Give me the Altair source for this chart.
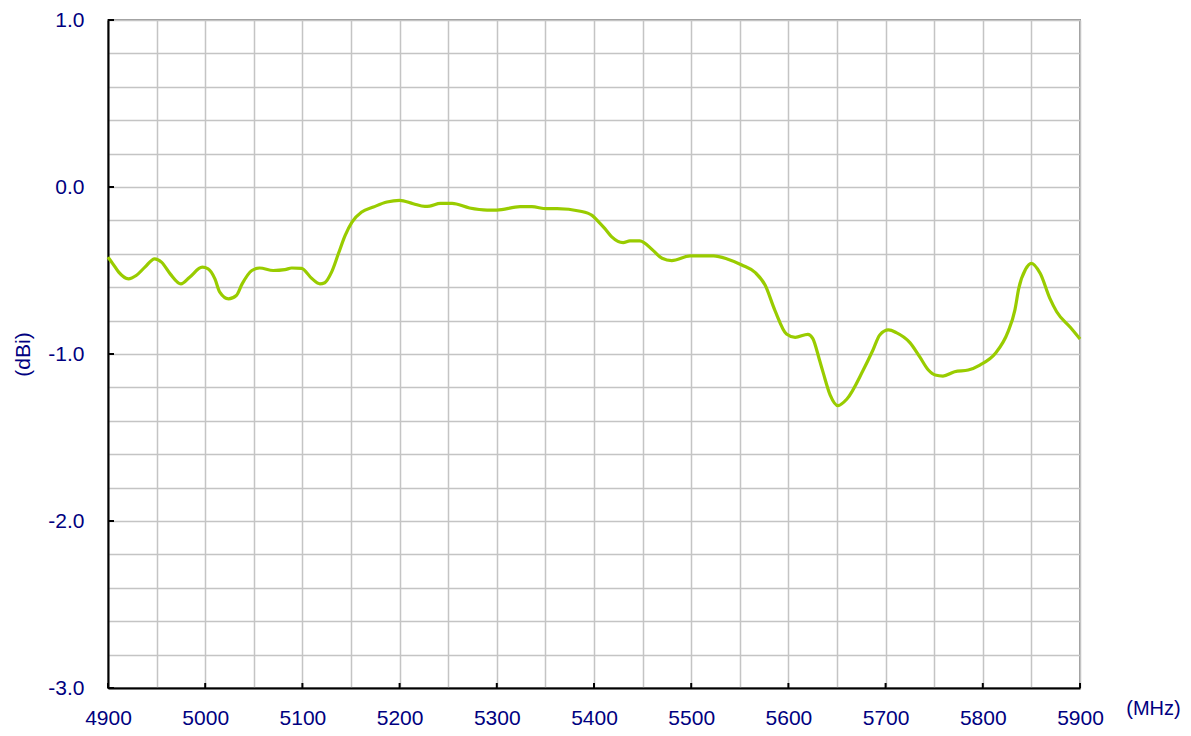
import altair as alt
import pandas as pd

freq = [4900, 4905, 4911, 4921, 4929, 4938, 4948, 4955, 4964, 4975, 4984, 4997,
        5003, 5010, 5015, 5024, 5032, 5038, 5048, 5056, 5070, 5082, 5089, 5099,
        5110, 5118, 5123, 5130, 5137, 5144, 5151, 5161, 5173, 5187, 5200, 5214,
        5226, 5231, 5242, 5254, 5272, 5290, 5300, 5324, 5336, 5351, 5362, 5386,
        5398, 5405, 5411, 5418, 5430, 5437, 5447, 5461, 5470, 5480, 5499, 5523,
        5537, 5552, 5566, 5576, 5586, 5598, 5607, 5620, 5625, 5632, 5636, 5643,
        5651, 5660, 5677, 5687, 5694, 5703, 5711, 5725, 5735, 5744, 5751, 5759,
        5771, 5785, 5797, 5813, 5826, 5833, 5837, 5844, 5850, 5859, 5869, 5876,
        5890, 5900]
gain = [-0.42, -0.46, -0.51, -0.55, -0.53, -0.48, -0.43, -0.45, -0.52, -0.58, -0.54, -0.48,
        -0.49, -0.55, -0.63, -0.67, -0.65, -0.58, -0.50, -0.485, -0.50, -0.495, -0.485, -0.487,
        -0.55, -0.58, -0.573, -0.51, -0.40, -0.29, -0.21, -0.15, -0.12, -0.09, -0.08, -0.10,
        -0.116, -0.114, -0.098, -0.098, -0.126, -0.138, -0.138, -0.118, -0.118, -0.13, -0.13, -0.145,
        -0.17, -0.21, -0.248, -0.297, -0.333, -0.323, -0.323, -0.381, -0.427, -0.441, -0.413, -0.413,
        -0.431, -0.467, -0.513, -0.587, -0.737, -0.88, -0.90, -0.882, -0.906, -1.036, -1.116, -1.246,
        -1.309, -1.271, -1.096, -0.976, -0.886, -0.856, -0.872, -0.932, -1.016, -1.096, -1.126, -1.132,
        -1.106, -1.096, -1.066, -0.996, -0.866, -0.737, -0.607, -0.493, -0.457, -0.517, -0.667, -0.747,
        -0.84, -0.91]

x_grid = list(range(4900, 5901, 50))
y_grid = [round(-3 + 0.2 * i, 1) for i in range(21)]
x_major = list(range(4900, 5901, 100))
y_major = [-3.0, -2.0, -1.0, 0.0, 1.0]

NAVY = "#000080"
FONT = "Liberation Sans"

df = pd.DataFrame({"freq": freq, "gain": gain})

xscale = alt.Scale(domain=[4900, 5900], nice=False, zero=False)
yscale = alt.Scale(domain=[-3, 1], nice=False, zero=False)

x_axis = alt.Axis(
    values=x_grid,
    labelExpr="datum.value % 100 == 0 ? datum.label : ''",
    format="d",
    ticks=False,
    labelPadding=19,
    labelFontSize=21,
    labelColor=NAVY,
    labelFont=FONT,
    domainColor="#000000",
    domainWidth=2,
    grid=True,
    gridColor="#c4c4c4",
    gridWidth=1.5,
    title="(MHz)",
    titleFont=FONT,
    titleFontSize=20,
    titleFontWeight="normal",
    titleColor=NAVY,
    titleX=1045,
    titleY=20,
    titleAlign="center",
    titleBaseline="middle",
    labelFlush=False,
    labelOverlap=False,
)

y_axis = alt.Axis(
    values=y_grid,
    labelExpr="abs(datum.value - round(datum.value)) < 0.001 ? ((round(datum.value) < 0 ? '-' : '') + format(abs(round(datum.value)), '.1f')) : ''",
    ticks=False,
    labelPadding=24,
    labelFontSize=21,
    labelColor=NAVY,
    labelFont=FONT,
    domainColor="#000000",
    domainWidth=2,
    grid=True,
    gridColor="#c4c4c4",
    gridWidth=1.5,
    title="(dBi)",
    titleFont=FONT,
    titleFontSize=21,
    titleFontWeight="normal",
    titleColor=NAVY,
    titleX=-85,
    titleY=334,
    titleAngle=-90,
    titleAlign="center",
    titleBaseline="middle",
    labelOverlap=False,
    labelFlush=False,
)

line = alt.Chart(df).mark_line(
    color="#99cc00", strokeWidth=3.2, interpolate="monotone"
).encode(
    x=alt.X("freq:Q", scale=xscale, axis=x_axis),
    y=alt.Y("gain:Q", scale=yscale, axis=y_axis),
)

yt = alt.Chart(pd.DataFrame({"gain": y_major})).mark_rule(color="#000000", strokeWidth=2).encode(
    y=alt.Y("gain:Q", scale=yscale, axis=y_axis),
    x=alt.value(0),
    x2=alt.value(6),
)

xt = alt.Chart(pd.DataFrame({"freq": x_major})).mark_rule(color="#000000", strokeWidth=2).encode(
    x=alt.X("freq:Q", scale=xscale, axis=x_axis),
    y=alt.value(668),
    y2=alt.value(663),
)

chart = alt.layer(line, yt, xt).properties(
    width=972,
    height=668,
    autosize=alt.AutoSizeParams(type="none"),
    padding={"left": 100, "top": 12, "right": 103, "bottom": 40},
    background="#ffffff",
).configure_view(
    stroke="#999999",
    strokeWidth=2,
)

chart.save("out.html", embed_options={"renderer": "svg", "actions": False})
